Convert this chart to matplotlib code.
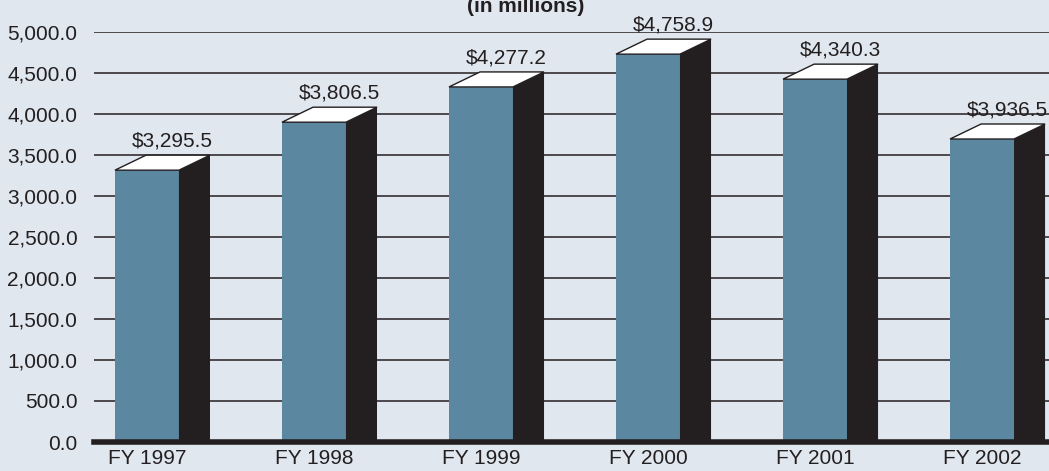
import matplotlib
matplotlib.use('Agg')
import matplotlib.pyplot as plt
from matplotlib.patches import Polygon
from matplotlib import font_manager
import numpy as np

# data
years = ['FY 1997', 'FY 1998', 'FY 1999', 'FY 2000', 'FY 2001', 'FY 2002']
heights = [3315, 3900, 4330, 4730, 4425, 3695]   # heights as drawn
labels = ['$3,295.5', '$3,806.5', '$4,277.2', '$4,758.9', '$4,340.3', '$3,936.5']
yticks = [0, 500, 1000, 1500, 2000, 2500, 3000, 3500, 4000, 4500, 5000]

names = {f.name for f in font_manager.fontManager.ttflist}
family = 'Liberation Sans Narrow' if 'Liberation Sans Narrow' in names else 'Liberation Sans'
plt.rcParams['font.family'] = [family, 'DejaVu Sans']

bg = '#e0e7ef'
front_c = '#5b87a0'
side_c = '#231f20'
ink = '#231f20'

fig = plt.figure(figsize=(10.49, 4.71), dpi=100, facecolor=bg)
ax = fig.add_axes([94 / 1049, 29 / 471, 1 - 94 / 1049, 410 / 471])
ax.set_facecolor(bg)
ax.set_xlim(-0.317, 5.401)
ax.set_ylim(0, 5000)

for y in yticks[1:]:
    ax.axhline(y, color=ink, lw=1.1, zorder=1)

w = 0.383     # front face width
dx = 0.186    # depth offset (x)
dy = 183      # depth offset (y)

for i, h in enumerate(heights):
    x0 = i - w / 2
    x1 = i + w / 2
    ax.add_patch(Polygon([(x0, 0), (x1, 0), (x1, h), (x0, h)], closed=True,
                         facecolor=front_c, edgecolor='none', zorder=2))
    ax.add_patch(Polygon([(x1, 0), (x1, h), (x1 + dx, h + dy), (x1 + dx, 0)], closed=True,
                         facecolor=side_c, edgecolor='none', zorder=2))
    ax.add_patch(Polygon([(x0, h), (x1, h), (x1 + dx, h + dy), (x0 + dx, h + dy)], closed=True,
                         facecolor='white', edgecolor=ink, lw=1.0, zorder=3, clip_on=False))
    ax.text(i + 0.15, h + dy + 60, labels[i], ha='center', va='bottom',
            fontsize=15, color=ink, clip_on=False)

ax.axhline(0, color=ink, lw=4, zorder=5, clip_on=False)

ax.set_yticks(yticks)
ax.set_yticklabels(['{:,.1f}'.format(v) for v in yticks], fontsize=15, color=ink)
ax.set_xticks(range(len(years)))
ax.set_xticklabels(years, fontsize=15, color=ink)
ax.tick_params(axis='y', length=0, pad=12)
ax.tick_params(axis='x', length=0, pad=5)
for s in ax.spines.values():
    s.set_visible(False)

fig.text(526 / 1049, 1 - 12 / 471, '(in millions)', ha='center', va='baseline',
         fontsize=15, fontweight='bold', color=ink)

fig.savefig('out.png', dpi=100, facecolor=bg)
